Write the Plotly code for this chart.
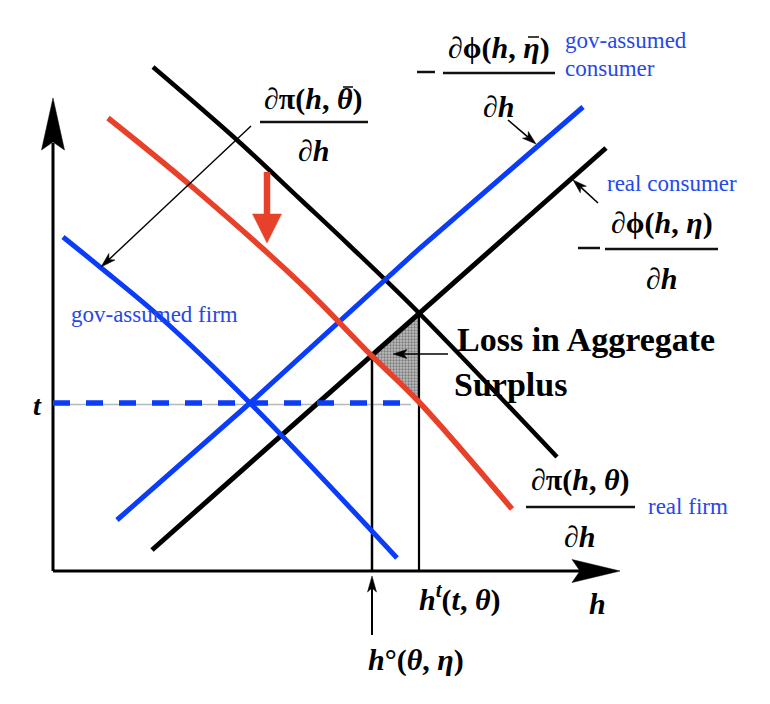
import numpy as np
import plotly.graph_objects as go

# ---------------- data (diagram units) ----------------
# downward-sloping marginal-profit curves  dπ/dh
firm_theta_h = [10.0, 18.4, 24.7, 29.7, 36.6, 50.4]      # black  ∂π(h,θ)/∂h
firm_theta_v = [50.4, 43.1, 37.2, 32.5, 25.8, 11.4]
firm_real_h = [5.5, 13.7, 24.7, 31.9, 36.6, 45.9]         # red (real firm)
firm_real_v = [45.3, 38.6, 28.8, 21.5, 16.9, 6.2]
firm_gov_h = [1.0, 4.7, 10.7, 19.7, 34.4]                 # blue (gov-assumed firm)
firm_gov_v = [33.4, 30.4, 25.4, 16.8, 1.3]
# upward-sloping marginal-damage curves  -dφ/dh
cons_gov_h = [6.4, 19.7, 36.7, 53.0]                      # blue (gov-assumed consumer)
cons_gov_v = [5.1, 16.8, 32.3, 46.4]
cons_real_h = [9.9, 22.7, 31.9, 36.6, 55.3]               # black (real consumer)
cons_real_v = [2.1, 13.4, 21.5, 25.8, 42.3]

t_level = 16.8        # tax t
h_opt = 31.9          # h°(θ, η)
h_tax = 36.6          # h^t(t, θ)
h_axis_max = 56.7
t_axis_max = 47.3

BLUE = "#0b3cf7"
RED = "#e8412a"
TXTBLUE = "#2748e8"
SERIF = "Liberation Serif"

fig = go.Figure()


def line(xs, ys, color, width, dash=None, shape="linear"):
    fig.add_trace(go.Scatter(x=xs, y=ys, mode="lines",
                             line=dict(color=color, width=width, dash=dash, shape=shape,
                                       smoothing=1.0),
                             hoverinfo="skip"))


def head(tail, tip, length, width, notch, color="black"):
    tx, ty = tip
    dx, dy = tip[0] - tail[0], tip[1] - tail[1]
    n = np.hypot(dx, dy)
    ux, uy = dx / n, dy / n
    px, py = -uy, ux
    bx, by = tx - ux * length, ty - uy * length
    nx, ny = tx - ux * (length - notch), ty - uy * (length - notch)
    xs = [tx, bx + px * width / 2, nx, bx - px * width / 2, tx]
    ys = [ty, by + py * width / 2, ny, by - py * width / 2, ty]
    fig.add_trace(go.Scatter(x=xs, y=ys, mode="lines", fill="toself",
                             fillcolor=color, line=dict(color=color, width=0.5),
                             hoverinfo="skip"))
    return nx, ny


def arrow(tail, tip, lw, length, width, notch, color="black"):
    nx, ny = head(tail, tip, length, width, notch, color)
    line([tail[0], nx], [tail[1], ny], color, lw)


# shaded loss triangle (between real consumer and real firm curves)
hh = np.linspace(h_opt, h_tax, 20)
upper = np.interp(hh, cons_real_h, cons_real_v)
lower = np.interp(hh, firm_real_h, firm_real_v)
fig.add_trace(go.Scatter(x=np.r_[hh, hh[::-1]], y=np.r_[upper, lower[::-1]],
                         mode="lines", fill="toself", line=dict(width=0),
                         fillcolor="#b0b0b0",
                         fillpattern=dict(shape=".", fgcolor="#3a3a3a", bgcolor="#bdbdbd",
                                          size=3, solidity=0.45),
                         hoverinfo="skip"))

# axes
line([0, 0], [0, t_axis_max - 4.5], "black", 3)
head((0, 0), (0, t_axis_max), 5.2, 2.3, 0.8)
line([0, h_axis_max - 4.0], [0, 0], "black", 3)
head((0, 0), (h_axis_max, 0), 4.8, 2.3, 0.8)

# thin grey original guide under the dashed tax line
line([0, h_tax - 0.8], [t_level - 0.15, t_level - 0.15], "#b8b8b8", 1.5)

# vertical guides
line([h_opt, h_opt], [0, float(np.interp(h_opt, cons_real_h, cons_real_v))], "black", 2.5)
line([h_tax, h_tax], [0, float(np.interp(h_tax, cons_real_h, cons_real_v))], "black", 2.2)

# curves
line(cons_real_h, cons_real_v, "black", 5)
line(firm_theta_h, firm_theta_v, "black", 4.5, shape="spline")
line(cons_gov_h, cons_gov_v, BLUE, 5)
line(firm_gov_h, firm_gov_v, BLUE, 5, shape="spline")
line(firm_real_h, firm_real_v, RED, 5.5, shape="spline")

# dashed tax line
line([0, h_tax - 0.6], [t_level, t_level], BLUE, 5.5, dash="17px,16px")

# pointer arrows
arrow((19.8, 44.5), (4.8, 30.4), 1.4, 1.5, 0.9, 0.4)      # ∂π(h,θ̄) -> gov firm
arrow((45.5, 45.1), (48.3, 42.7), 1.6, 1.4, 0.9, 0.35)    # ∂φ(h,η̄)
arrow((54.5, 36.8), (52.0, 39.1), 1.6, 1.4, 0.9, 0.35)    # ∂φ(h,η)
arrow((39.5, 21.7), (34.0, 21.7), 1.6, 1.4, 0.9, 0.35)    # loss
arrow((h_opt, -6.4), (h_opt, -0.5), 2.0, 1.6, 0.9, 0.4)   # h° marker
# red shift arrow
arrow((21.4, 39.9), (21.4, 32.8), 6.5, 2.9, 2.9, 0.0, RED)

# fraction bars / minus signs / macrons
bars = [((20.7, 31.5), 44.9, 2.5), ((39.0, 50.2), 49.8, 2.5), ((55.2, 66.5), 32.2, 2.5),
        ((47.3, 58.2), 6.4, 2.5), ((36.4, 38.2), 49.9, 2.5), ((52.5, 54.7), 32.3, 2.5),
        ((29.0, 30.0), 48.4, 1.6), ((47.5, 48.6), 53.4, 1.6)]
shapes = []
for (x0, x1), y, w in bars:
    shapes.append(dict(type="line", x0=x0, x1=x1, y0=y, y1=y, xref="x", yref="y",
                       line=dict(color="#111", width=w)))

anns = []


def txt(x, y, s, size, color="black", xanchor="center", family=SERIF, weight="normal"):
    anns.append(dict(x=x, y=y, text=s, showarrow=False, xanchor=xanchor, yanchor="middle",
                     font=dict(family=family, size=size, color=color, weight=weight),
                     xref="x", yref="y"))


M = 30
W = "bold"
txt(26.0, 47.2, "∂π(<i>h</i>, <i>θ</i>)", M, weight=W)
txt(26.1, 42.1, "∂<i>h</i>", M, weight=W)
txt(44.6, 52.3, "∂ϕ(<i>h</i>, <i>η</i>)", M, weight=W)
txt(44.6, 46.5, "∂<i>h</i>", M, weight=W)
txt(60.9, 34.8, "∂ϕ(<i>h</i>, <i>η</i>)", M, weight=W)
txt(60.9, 29.3, "∂<i>h</i>", M, weight=W)
txt(52.7, 9.1, "∂π(<i>h</i>, <i>θ</i>)", M, weight=W)
txt(52.7, 3.5, "∂<i>h</i>", M, weight=W)
txt(40.2, 23.2, "Loss in Aggregate", 34, xanchor="left", weight=W)
txt(39.9, 18.7, "Surplus", 34, xanchor="left", weight=W)
txt(-1.6, 16.6, "<i>t</i>", 28, weight=W)
txt(54.4, -3.2, "<i>h</i>", 30, weight=W)
txt(40.6, -2.6, "<i>h</i><sup><i>t</i></sup>(<i>t</i>, <i>θ</i>)", M, weight=W)
txt(36.3, -8.9, "<i>h</i>°(<i>θ</i>, <i>η</i>)", M, weight=W)

B = 23
txt(51.0, 53.1, "gov-assumed", B, TXTBLUE, "left")
txt(51.0, 50.3, "consumer", B, TXTBLUE, "left")
txt(55.2, 38.8, "real consumer", B, TXTBLUE, "left")
txt(59.3, 6.5, "real firm", B, TXTBLUE, "left")
txt(1.6, 25.7, "gov-assumed firm", B, TXTBLUE, "left")

# page body has an 8px margin: shift ranges so the drawing lands where the reference has it
fig.update_layout(width=770, height=704, margin=dict(l=0, r=0, t=0, b=0),
                  paper_bgcolor="white", plot_bgcolor="white", showlegend=False,
                  xaxis=dict(range=[-4.5, 72.5], visible=False, fixedrange=True),
                  yaxis=dict(range=[-14.1, 56.3], visible=False, fixedrange=True),
                  shapes=shapes, annotations=anns)

fig.write_html("out.html")
